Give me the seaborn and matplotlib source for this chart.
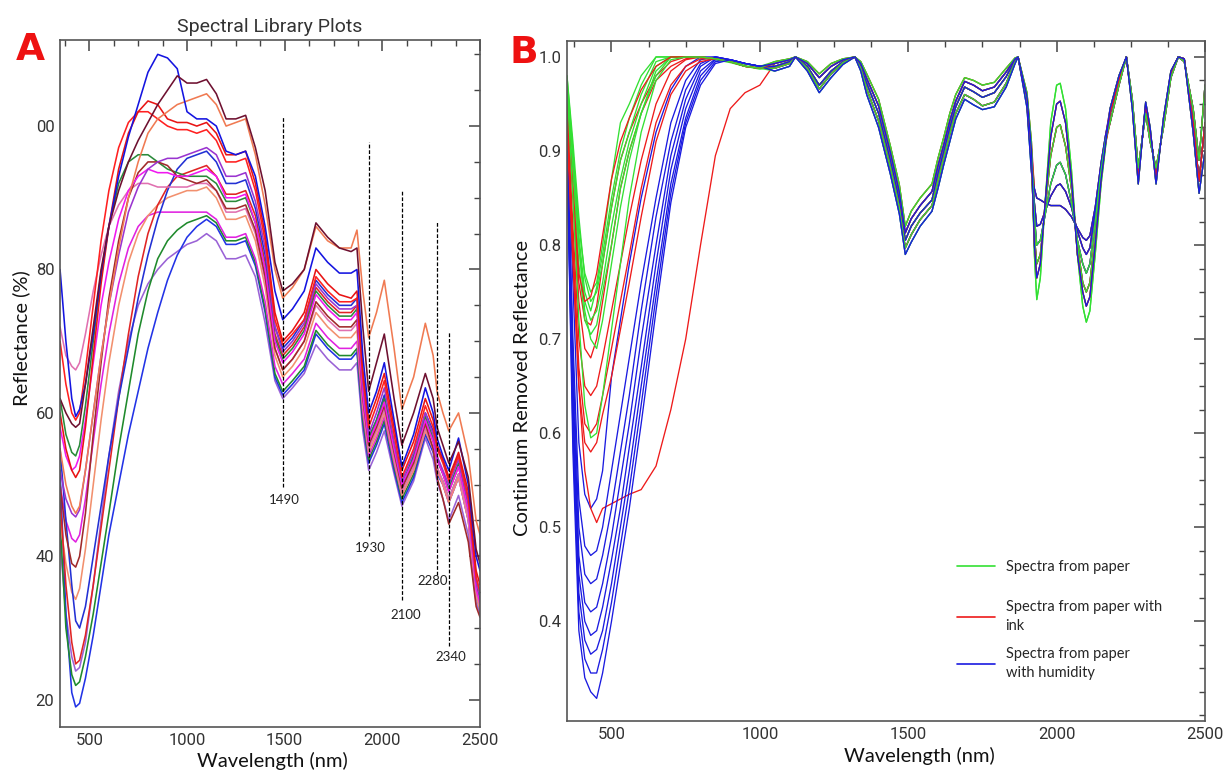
import matplotlib
matplotlib.use("Agg")
import matplotlib.pyplot as plt
from matplotlib.lines import Line2D
from matplotlib.ticker import MultipleLocator, FixedLocator
import pandas as pd
import seaborn as sns

# ---------------- panel A : spectral library (reflectance %) ----------------
wl_a = [350, 380, 410, 430, 450, 480, 520, 560, 600, 650,
        700, 750, 800, 850, 900, 950, 1000, 1050, 1100, 1150,
        1200, 1250, 1300, 1350, 1400, 1450, 1490, 1540, 1600, 1660,
        1720, 1780, 1840, 1870, 1900, 1930, 1970, 2010, 2060, 2100,
        2160, 2220, 2260, 2280, 2310, 2340, 2390, 2440, 2480, 2500]

a_maroon = [62, 60, 58.5, 58, 58.5, 64, 72, 80, 86, 91,
            95, 98, 100.5, 103, 105, 107, 106, 106, 106.5, 104.5,
            101, 101, 101.5, 97, 91, 81, 77, 78, 80, 86.5,
            84.5, 83, 82.5, 83, 72, 63, 67, 71, 62, 55.5,
            60, 65.5, 62, 58, 55.5, 53, 56, 51, 41, 39]
a_blue_top = [80, 70, 62, 59.5, 60.5, 64, 71, 79.5, 86, 93,
              98.5, 103, 107.5, 110, 109.5, 108, 102, 101, 101, 100,
              96.5, 96, 96.5, 93, 86, 77, 73, 74.5, 77, 83,
              81, 79.5, 79.5, 80, 68, 60, 63, 67, 59, 52.5,
              57, 63.5, 60, 56.5, 54, 52, 56.5, 50, 40, 38]
a_salmon = [55, 50, 47, 46, 47, 52, 60, 68, 75, 83,
            90, 95, 99, 101, 102, 103, 103.5, 104, 104.5, 103,
            100, 100.5, 101, 96, 89, 80, 76, 77.5, 80, 86,
            84, 83, 83, 85.5, 77, 70.5, 74, 78.5, 69, 60.5,
            65, 72.5, 68, 63, 60, 57.5, 60, 54, 45, 43]
a_red = [60, 55, 52, 51, 52, 58, 68, 78, 86, 94,
         99, 102, 103.5, 103, 101, 100.5, 100.5, 100, 100.5, 99,
         96, 96, 96.5, 92, 85, 74, 70, 71.5, 74, 80,
         78, 76.5, 76, 77, 66, 59, 62, 65.5, 58, 52,
         56, 62, 59, 55.5, 53.5, 51, 54.5, 49, 38, 36]
a_red2 = [70, 64, 60, 59, 60, 66, 75, 84, 91, 97,
          100.5, 102, 102, 101, 100, 99.5, 99.5, 99, 99.5, 98,
          95, 95, 95.5, 91, 84, 73, 69.5, 71, 73, 79,
          77, 75.5, 75.5, 76, 65, 58, 61, 64.5, 57, 51,
          55, 61, 58, 55, 53, 50.5, 54, 48, 37, 35]
a_purple = [52, 48, 46, 45.5, 46.5, 52, 60, 68, 75, 82,
            88, 91.5, 94, 95, 95.5, 95.5, 96, 96.5, 97, 96,
            93, 93, 93.5, 89.5, 83, 72, 68.5, 70, 72.5, 78,
            76, 74.5, 74.5, 75, 64, 57, 60, 63.5, 56, 50.5,
            54.5, 60, 57, 54, 52, 50, 53.5, 47.5, 36.5, 34.5]
a_magenta = [58, 54, 52, 52.5, 54, 59, 67, 75, 81, 87,
             91, 93, 94, 93.5, 93.5, 93, 93, 93.5, 94, 93,
             90, 90, 90.5, 86.5, 80, 70, 67, 68.5, 71, 76.5,
             74.5, 73, 73, 74, 62.5, 56, 58.5, 61.5, 55, 50,
             53.5, 59, 56, 53.5, 51.5, 49, 52.5, 46.5, 35.5, 33.5]
a_brown = [50, 43, 39, 38.5, 40, 46, 57, 67, 76, 84,
           90, 93.5, 95, 95, 94.5, 93, 92.5, 92, 92.5, 91,
           88.5, 88.5, 89, 85.5, 79, 69, 66, 67.5, 70, 75.5,
           73.5, 72, 72, 73, 62, 55.5, 58, 61, 54.5, 49.5,
           53, 58.5, 55, 51, 48, 44.5, 47.5, 42, 33, 31.5]
a_green = [62, 57, 54.5, 54, 55.5, 61, 70, 79, 86, 92,
           95, 96, 96, 95, 94, 93.5, 93, 93, 93, 92,
           89.5, 89.5, 90, 86.5, 80, 70.5, 67.5, 69, 71.5, 77,
           75, 73.5, 73.5, 74.5, 63, 56.5, 59, 62, 55.5, 50,
           54, 59.5, 56.5, 53.5, 51.5, 49.5, 53, 47, 36, 34]
a_pink = [72, 68, 66.5, 66, 67, 71, 77, 82, 86, 89,
          91, 92, 92, 91.5, 91.5, 91.5, 91.5, 92, 92, 91,
          88, 88, 88.5, 85, 78.5, 69, 66, 67.5, 70, 75,
          73, 71.5, 71.5, 72.5, 61.5, 55, 57.5, 60.5, 54, 49,
          52.5, 58, 55, 52.5, 50.5, 48, 51.5, 45.5, 35, 33]
a_salmon2 = [45, 39, 35, 34, 35.5, 41, 50, 59, 67, 75,
             81, 85, 87.5, 89, 90, 90.5, 91, 91, 91.5, 90,
             87, 87, 87.5, 84, 77.5, 68, 65, 66.5, 69, 74,
             72, 70.5, 70.5, 71.5, 61, 54.5, 57, 60, 53.5, 48.5,
             52, 57.5, 55, 52, 50, 47.5, 51, 45, 34.5, 32.5]
a_blue3 = [55, 45, 36, 31, 30, 33, 40, 47, 54, 62,
           69, 76, 82, 87, 91, 94, 95.5, 96, 96.5, 95,
           92, 92, 92.5, 88.5, 82, 72, 69, 70.5, 73, 78.5,
           76.5, 75, 75, 76, 63.5, 56.5, 59, 62.5, 55, 49.5,
           54, 60, 57.5, 55.5, 53.5, 51, 54, 48, 37, 35]
a_red3 = [48, 36, 28, 25, 25.5, 29, 36, 44, 52, 62,
          71, 79, 85, 89, 91.5, 93, 93.5, 94, 94.5, 93,
          90.5, 90.5, 91, 87.5, 81, 71, 68, 69.5, 72, 77.5,
          75.5, 74, 74, 75, 63, 56, 58.5, 62, 55, 49.5,
          53.5, 59, 56, 53.5, 51.5, 49, 52.5, 46.5, 35.5, 33.5]
a_green2 = [45, 30, 23.5, 22, 22.5, 26, 32, 39, 46, 55,
            63, 71, 77, 81.5, 84, 85.5, 86.5, 87, 87.5, 86.5,
            84, 84, 84.5, 81, 74.5, 65.5, 63, 64.5, 66.5, 71.5,
            69.5, 68, 68, 69, 59, 53.5, 56, 59, 52.5, 48,
            51.5, 57.5, 55, 52, 50.5, 48, 51.5, 45.5, 35, 33]
a_blue4 = [52, 32, 21, 19, 19.5, 23, 29, 36, 43, 50,
           57, 63, 69, 74, 78.5, 82, 84.5, 86, 87, 86,
           83.5, 83.5, 84, 80.5, 74, 65, 62.5, 64, 66, 71,
           69, 67.5, 67.5, 68.5, 58.5, 53, 55.5, 58.5, 52, 47.5,
           51, 57, 54.5, 51.5, 50, 47.5, 51, 45, 34.5, 32.5]
a_violet = [42, 32, 26, 24, 24.5, 28, 36, 45, 54, 63,
            70, 75, 78, 80, 81.5, 82.5, 83.5, 84, 85, 84,
            81.5, 81.5, 82, 79, 72.5, 64.5, 62, 63.5, 65.5, 69.5,
            67.5, 66, 66, 67, 57.5, 52, 54.5, 57.5, 51.5, 47,
            50.5, 56.5, 53.5, 50.5, 48, 45, 48.5, 43, 33.5, 32]
a_magenta2 = [50, 45, 42.5, 42, 43, 48, 56, 64, 71, 78,
              83, 86, 87.5, 88, 88, 88, 88, 88, 88, 87,
              84.5, 84.5, 85, 81.5, 75.5, 66.5, 64, 65.5, 67.5, 72.5,
              70.5, 69, 69, 70, 60, 54, 56.5, 59.5, 53, 48.5,
              52, 57.5, 55, 52, 50, 47.5, 51, 45, 34.5, 33]

curves_a = [
    ("violet", "#9a62d6", a_violet),
    ("blue4", "#2233e6", a_blue4),
    ("green2", "#1f8a2c", a_green2),
    ("magenta2", "#e022e0", a_magenta2),
    ("salmon2", "#f2906e", a_salmon2),
    ("red3", "#e02424", a_red3),
    ("blue3", "#2230d4", a_blue3),
    ("pink", "#e070b0", a_pink),
    ("green", "#2a8a3a", a_green),
    ("brown", "#a02a2a", a_brown),
    ("magenta", "#f018f0", a_magenta),
    ("purple", "#9a34d0", a_purple),
    ("red2", "#ff2020", a_red2),
    ("red", "#e81414", a_red),
    ("salmon", "#f07a52", a_salmon),
    ("blue_top", "#1414e0", a_blue_top),
    ("maroon", "#6e1030", a_maroon),
]

# absorption features marked with dashed lines
band_wl = [1490, 1930, 2100, 2280, 2340]
band_top = [101.4, 97.8, 91.1, 86.7, 71.4]
band_bottom = [49.7, 42.9, 33.9, 37.4, 27.5]
band_label_x = [1499, 1938, 2118, 2257, 2350]
band_label_y = [47.8, 41.2, 31.8, 36.5, 26.0]

# ---------------- panel B : continuum removed reflectance ----------------
wl_vnir = [350, 370, 390, 410, 430, 450, 470, 500, 530, 560,
           600, 650, 700, 750, 800, 850, 900, 950, 1000]
wl_pre = [1050, 1100, 1120, 1160, 1200, 1240, 1280, 1320, 1340, 1360,
          1400, 1440, 1470, 1490, 1510, 1540, 1580, 1600, 1620, 1640,
          1660, 1690, 1720, 1750, 1790, 1830, 1860, 1870, 1900, 1915]
wl_band = [1925, 1933, 1945, 1960, 1980, 2000, 2012, 2030, 2050, 2070,
           2088, 2100, 2112, 2130, 2150, 2165]
wl_post = [2180, 2210, 2235, 2255, 2275, 2300, 2315, 2335, 2360, 2385,
           2410, 2430, 2460, 2480, 2500]

# paper
g1 = [0.97, 0.90, 0.82, 0.77, 0.75, 0.76, 0.80, 0.87, 0.93, 0.95, 0.98, 1.0, 1.0, 1.0, 1.0, 0.998, 0.995, 0.993, 0.99]
g2 = [0.98, 0.91, 0.83, 0.765, 0.74, 0.75, 0.78, 0.84, 0.89, 0.92, 0.96, 0.995, 1.0, 1.0, 1.0, 0.998, 0.995, 0.993, 0.99]
g3 = [0.97, 0.89, 0.80, 0.74, 0.72, 0.73, 0.76, 0.82, 0.87, 0.91, 0.95, 0.99, 1.0, 1.0, 1.0, 0.998, 0.995, 0.99, 0.988]
g4 = [0.96, 0.88, 0.78, 0.72, 0.705, 0.715, 0.75, 0.80, 0.86, 0.90, 0.94, 0.985, 1.0, 1.0, 0.999, 0.997, 0.994, 0.99, 0.987]
g5 = [0.97, 0.90, 0.81, 0.75, 0.73, 0.755, 0.79, 0.85, 0.90, 0.935, 0.97, 1.0, 1.0, 1.0, 1.0, 0.998, 0.995, 0.992, 0.99]
g6 = [0.98, 0.90, 0.80, 0.73, 0.70, 0.69, 0.72, 0.78, 0.84, 0.89, 0.94, 0.98, 1.0, 1.0, 1.0, 0.998, 0.995, 0.99, 0.988]
g7 = [0.97, 0.85, 0.72, 0.63, 0.595, 0.60, 0.64, 0.71, 0.78, 0.85, 0.92, 0.975, 0.997, 1.0, 1.0, 0.998, 0.995, 0.99, 0.988]
# paper with ink
r1 = [0.95, 0.80, 0.65, 0.56, 0.52, 0.505, 0.52, 0.525, 0.53, 0.535, 0.54, 0.565, 0.625, 0.70, 0.80, 0.895, 0.945, 0.962, 0.97]
r2 = [0.96, 0.86, 0.76, 0.72, 0.715, 0.735, 0.78, 0.84, 0.89, 0.92, 0.95, 0.98, 0.995, 1.0, 1.0, 0.998, 0.995, 0.99, 0.988]
r3 = [0.95, 0.85, 0.74, 0.69, 0.68, 0.70, 0.74, 0.80, 0.86, 0.90, 0.94, 0.975, 0.99, 0.998, 1.0, 0.998, 0.995, 0.99, 0.988]
r4 = [0.94, 0.82, 0.70, 0.65, 0.64, 0.65, 0.68, 0.73, 0.78, 0.83, 0.89, 0.95, 0.985, 0.997, 1.0, 0.998, 0.995, 0.99, 0.988]
r5 = [0.93, 0.80, 0.67, 0.61, 0.60, 0.61, 0.64, 0.69, 0.74, 0.79, 0.86, 0.93, 0.97, 0.99, 0.998, 0.998, 0.995, 0.99, 0.988]
r6 = [0.92, 0.78, 0.65, 0.59, 0.58, 0.59, 0.62, 0.66, 0.71, 0.76, 0.83, 0.91, 0.96, 0.985, 0.995, 0.998, 0.995, 0.99, 0.988]
r7 = [0.95, 0.86, 0.77, 0.74, 0.745, 0.77, 0.81, 0.87, 0.91, 0.935, 0.965, 0.99, 1.0, 1.0, 1.0, 0.998, 0.995, 0.99, 0.988]
# paper with humidity
b1 = [0.93, 0.76, 0.59, 0.535, 0.52, 0.53, 0.56, 0.66, 0.72, 0.78, 0.85, 0.92, 0.965, 0.99, 1.0, 1.0, 0.997, 0.993, 0.99]
b2 = [0.92, 0.70, 0.53, 0.48, 0.47, 0.475, 0.50, 0.56, 0.62, 0.68, 0.76, 0.85, 0.93, 0.975, 0.997, 1.0, 0.997, 0.993, 0.99]
b3 = [0.92, 0.68, 0.50, 0.45, 0.44, 0.445, 0.47, 0.52, 0.58, 0.64, 0.73, 0.83, 0.91, 0.965, 0.993, 1.0, 0.997, 0.993, 0.99]
b4 = [0.91, 0.66, 0.47, 0.42, 0.41, 0.415, 0.44, 0.49, 0.55, 0.61, 0.70, 0.80, 0.895, 0.955, 0.99, 1.0, 0.997, 0.993, 0.99]
b5 = [0.91, 0.64, 0.45, 0.40, 0.385, 0.39, 0.415, 0.465, 0.52, 0.585, 0.67, 0.78, 0.88, 0.945, 0.985, 0.998, 0.997, 0.993, 0.99]
b6 = [0.90, 0.62, 0.43, 0.38, 0.365, 0.37, 0.39, 0.44, 0.50, 0.56, 0.65, 0.76, 0.865, 0.935, 0.98, 0.997, 0.997, 0.993, 0.99]
b7 = [0.90, 0.60, 0.41, 0.36, 0.345, 0.345, 0.37, 0.42, 0.48, 0.54, 0.63, 0.745, 0.855, 0.93, 0.975, 0.995, 0.997, 0.993, 0.99]
b8 = [0.90, 0.58, 0.39, 0.34, 0.325, 0.318, 0.345, 0.40, 0.46, 0.52, 0.61, 0.73, 0.845, 0.925, 0.97, 0.993, 0.997, 0.993, 0.99]

pre_lo2 = [0.985, 0.99, 1.0, 0.985, 0.962, 0.978, 0.992, 1.0, 0.985, 0.96,
           0.925, 0.875, 0.833, 0.79, 0.803, 0.82, 0.836, 0.86, 0.886, 0.91,
           0.934, 0.955, 0.949, 0.944, 0.947, 0.968, 0.993, 1.0, 0.946, 0.878]
pre_lo = [0.988, 0.993, 1.0, 0.988, 0.966, 0.982, 0.994, 1.0, 0.988, 0.966,
          0.932, 0.882, 0.84, 0.797, 0.811, 0.827, 0.842, 0.868, 0.893, 0.918,
          0.94, 0.96, 0.955, 0.948, 0.952, 0.972, 0.995, 1.0, 0.95, 0.885]
pre_mid = [0.99, 0.995, 1.0, 0.99, 0.97, 0.985, 0.995, 1.0, 0.99, 0.972,
           0.94, 0.89, 0.848, 0.805, 0.82, 0.834, 0.848, 0.876, 0.90, 0.925,
           0.947, 0.968, 0.963, 0.957, 0.962, 0.979, 0.997, 1.0, 0.954, 0.894]
pre_hi = [0.993, 0.997, 1.0, 0.993, 0.978, 0.99, 0.997, 1.0, 0.993, 0.977,
          0.948, 0.898, 0.856, 0.813, 0.828, 0.842, 0.857, 0.884, 0.907, 0.932,
          0.953, 0.974, 0.97, 0.964, 0.968, 0.984, 0.998, 1.0, 0.958, 0.902]
pre_hi2 = [0.995, 0.998, 1.0, 0.995, 0.982, 0.993, 0.998, 1.0, 0.995, 0.982,
           0.955, 0.905, 0.864, 0.82, 0.836, 0.85, 0.865, 0.892, 0.915, 0.94,
           0.96, 0.978, 0.975, 0.97, 0.973, 0.988, 0.999, 1.0, 0.962, 0.91]

band_1 = [0.79, 0.742, 0.765, 0.84, 0.93, 0.97, 0.972, 0.945, 0.88, 0.79, 0.735, 0.718, 0.73, 0.79, 0.865, 0.905]
band_2 = [0.80, 0.765, 0.78, 0.84, 0.915, 0.95, 0.953, 0.93, 0.87, 0.79, 0.75, 0.735, 0.745, 0.80, 0.87, 0.908]
band_3 = [0.81, 0.78, 0.79, 0.835, 0.895, 0.925, 0.928, 0.905, 0.86, 0.80, 0.76, 0.75, 0.76, 0.81, 0.875, 0.91]
band_4 = [0.83, 0.80, 0.805, 0.83, 0.865, 0.885, 0.888, 0.875, 0.845, 0.805, 0.78, 0.77, 0.78, 0.825, 0.88, 0.912]
band_5 = [0.845, 0.82, 0.822, 0.835, 0.852, 0.863, 0.865, 0.857, 0.84, 0.815, 0.797, 0.79, 0.797, 0.835, 0.885, 0.915]
band_6 = [0.86, 0.85, 0.848, 0.845, 0.842, 0.842, 0.842, 0.838, 0.83, 0.818, 0.808, 0.805, 0.81, 0.84, 0.888, 0.917]

post_a = [0.94, 0.975, 1.0, 0.95, 0.872, 0.948, 0.92, 0.873, 0.93, 0.983, 1.0, 0.998, 0.93, 0.868, 0.93]
post_b = [0.93, 0.97, 1.0, 0.955, 0.882, 0.94, 0.91, 0.882, 0.925, 0.978, 1.0, 0.995, 0.945, 0.89, 0.97]
post_c = [0.945, 0.98, 1.0, 0.945, 0.865, 0.952, 0.925, 0.865, 0.935, 0.985, 1.0, 0.998, 0.92, 0.855, 0.90]

group_names = ["Spectra from paper", "Spectra from paper with\nink",
               "Spectra from paper\nwith humidity"]
group_colors = ["#33e033", "#ee1a1a", "#1a1ae0"]

# (group index, vnir, pre, band, post) - interleaved so no group hides another
curves_b = [
    (2, b1, pre_lo, band_3, post_a), (1, r1, pre_hi, band_3, post_a), (0, g1, pre_hi2, band_1, post_c),
    (2, b2, pre_mid, band_4, post_b), (1, r2, pre_mid, band_2, post_b), (0, g2, pre_mid, band_2, post_a),
    (2, b3, pre_lo2, band_5, post_a), (1, r3, pre_lo, band_4, post_a), (0, g3, pre_lo2, band_5, post_b),
    (2, b4, pre_hi, band_6, post_c), (1, r4, pre_mid, band_5, post_c), (0, g4, pre_mid, band_6, post_a),
    (2, b5, pre_lo, band_4, post_a), (1, r5, pre_hi2, band_6, post_a), (0, g5, pre_hi, band_1, post_c),
    (2, b6, pre_mid, band_5, post_b), (1, r6, pre_lo, band_3, post_b), (0, g6, pre_lo, band_3, post_a),
    (2, b7, pre_lo2, band_6, post_a), (1, r7, pre_hi, band_2, post_a), (0, g7, pre_hi2, band_4, post_b),
    (2, b8, pre_hi, band_2, post_c),
]

# ---------------- build long tables ----------------
rows = []
for name, col, vals in curves_a:
    for w, v in zip(wl_a, vals):
        rows.append({"wl": w, "refl": v, "curve": name})
df_a = pd.DataFrame(rows)
pal_a = {name: col for name, col, vals in curves_a}

wl_b = wl_vnir + wl_pre + wl_band + wl_post
rows = []
pal_b = {}
for i, (g, vn, pre, band, post) in enumerate(curves_b):
    key = "c%02d" % i
    pal_b[key] = group_colors[g]
    for w, v in zip(wl_b, vn + pre + band + post):
        rows.append({"wl": w, "crr": v, "curve": key})
df_b = pd.DataFrame(rows)

# ---------------- figure ----------------
sns.set_style("white")
plt.rcParams["font.family"] = ["Lato", "DejaVu Sans"]
narrow = ["Liberation Sans Narrow", "Roboto", "DejaVu Sans"]
tick_col = "#444444"

fig = plt.figure(figsize=(12.23, 7.74), dpi=100)
axA = fig.add_axes([0.0491, 0.0607, 0.3434, 0.8876])
axB = fig.add_axes([0.4636, 0.0685, 0.5217, 0.8786])

sns.lineplot(data=df_a, x="wl", y="refl", hue="curve", palette=pal_a,
             hue_order=[c[0] for c in curves_a], estimator=None,
             legend=False, linewidth=1.15, ax=axA)
sns.lineplot(data=df_b, x="wl", y="crr", hue="curve", palette=pal_b,
             hue_order=list(pal_b.keys()), estimator=None,
             legend=False, linewidth=0.95, ax=axB)

for w, t, b, lx, ly in zip(band_wl, band_top, band_bottom, band_label_x, band_label_y):
    axA.plot([w, w], [b, t], color="black", linestyle=(0, (3, 1.5)), linewidth=0.9)
    axA.text(lx, ly, str(w), ha="center", va="center", fontsize=9.5, color="#222222")

axA.set_xlim(350, 2500)
axA.set_ylim(16.2, 112)
axA.xaxis.set_major_locator(FixedLocator([500, 1000, 1500, 2000, 2500]))
axA.xaxis.set_minor_locator(MultipleLocator(125))
axA.yaxis.set_major_locator(FixedLocator([20, 40, 60, 80, 100]))
axA.set_yticklabels(["20", "40", "60", "80", "00"])
axA.yaxis.set_minor_locator(MultipleLocator(5))
axA.set_title("Spectral Library Plots", fontsize=14, family=narrow,
              color="#333333", pad=6)
axA.set_xlabel("Wavelength (nm)", fontsize=14.5, color="#111111")
axA.set_ylabel("Reflectance (%)", fontsize=14.5, color="#111111")
axA.xaxis.set_label_coords(0.505, -0.036)
axA.yaxis.set_label_coords(-0.072, 0.566)

axB.set_xlim(350, 2500)
axB.set_ylim(0.294, 1.017)
axB.xaxis.set_major_locator(FixedLocator([500, 1000, 1500, 2000, 2500]))
axB.xaxis.set_minor_locator(MultipleLocator(125))
axB.yaxis.set_major_locator(FixedLocator([0.4, 0.5, 0.6, 0.7, 0.8, 0.9, 1.0]))
axB.set_yticklabels(["0.4", "0.5", "0.6", "0.7", "0.8", "0.9", "1.0"])
axB.yaxis.set_minor_locator(MultipleLocator(0.025))
axB.set_xlabel("Wavelength (nm)", fontsize=14.5, color="#111111")
axB.set_ylabel("Continuum Removed Reflectance", fontsize=14.5, color="#111111")
axB.xaxis.set_label_coords(0.553, -0.038)
axB.yaxis.set_label_coords(-0.056, 0.49)

for ax in (axA, axB):
    ax.tick_params(which="both", direction="in", top=True, right=True,
                   color=tick_col, labelcolor="#333333", labelsize=12, pad=4)
    ax.tick_params(which="major", length=8, width=1.1)
    ax.tick_params(which="minor", length=4.5, width=1.0)
    for lab in ax.get_xticklabels() + ax.get_yticklabels():
        lab.set_family(narrow)
    for sp in ax.spines.values():
        sp.set_color("#555555")
        sp.set_linewidth(1.2)

# one small legend per group so each entry sits where the reference has it
legend_y = [0.2265, 0.153, 0.084]
for name, col, ly in zip(group_names, group_colors, legend_y):
    leg = axB.legend([Line2D([0], [0], color=col, linewidth=1.2)], [name],
                     loc="center left", bbox_to_anchor=(0.612, ly),
                     frameon=False, fontsize=10.5, handlelength=2.6,
                     handletextpad=0.7, borderaxespad=0, borderpad=0)
    for t in leg.get_texts():
        t.set_linespacing(1.45)
    axB.add_artist(leg)
axB.legend_ = None

fig.text(0.0245, 0.935, "A", color="#ee1111", fontsize=27, fontweight="bold",
         ha="center", va="center", family="DejaVu Sans")
fig.text(0.4285, 0.932, "B", color="#ee1111", fontsize=27, fontweight="bold",
         ha="center", va="center", family="DejaVu Sans")

fig.savefig("out.png", dpi=100, facecolor="white")
